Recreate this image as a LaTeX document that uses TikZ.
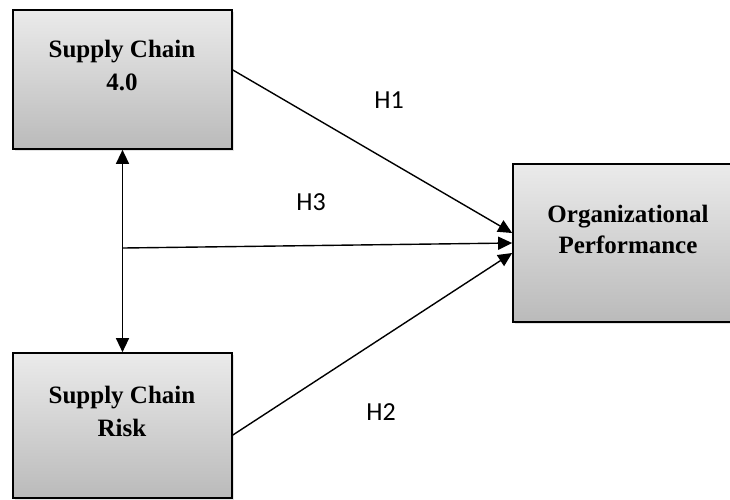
\documentclass[tikz,border=0pt]{standalone}
\usepackage{fontspec}
\setmainfont{Liberation Serif}
\newfontfamily\hfont{Carlito}
\usetikzlibrary{arrows.meta,calc,shadows}
\begin{document}
\begin{tikzpicture}[x=1pt,y=-1pt,
  box/.style={draw=black,line width=1.7pt,inner sep=0pt,
    top color=black!8,bottom color=black!27,
    drop shadow={opacity=0.22,shadow xshift=1.5pt,shadow yshift=-2pt}},
  lbl/.style={font=\fontsize{25}{33}\selectfont\bfseries,align=center,inner sep=0pt},
  hyp/.style={font=\hfont\fontsize{26}{30}\selectfont,inner sep=0pt},
  conn/.style={line width=1.4pt,-{Triangle[length=14pt,width=13pt]}},
  dconn/.style={line width=1.4pt,{Triangle[length=14pt,width=13pt]}-{Triangle[length=14pt,width=13pt]}}]
\useasboundingbox (0,0) rectangle (730,499);
\fill[white] (0,0) rectangle (730,499);

% boxes
\node[box,minimum width=219pt,minimum height=139pt] (sc4) at (122.5,79.5) {};
\node[box,minimum width=219pt,minimum height=145pt] (scr) at (122.5,425.5) {};
\node[box,minimum width=232pt,minimum height=158pt] (op) at (629,243) {};

% texts
\node[lbl] (t1) at (122,65.5) {Supply Chain\\4.0};
\node[lbl] (t2) at (122,411.5) {Supply Chain\\Risk};
\node[lbl,font=\fontsize{25}{31.5}\selectfont\bfseries] (t3) at (628,229.5) {Organizational\\Performance};

% hypothesis labels
\node[hyp] (h1) at (389,100) {H1};
\node[hyp] (h3) at (311,202) {H3};
\node[hyp] (h2) at (381,412) {H2};

% connectors
\coordinate (j) at (123,248);
\draw[dconn] (sc4.south) -- (scr.north);
\draw[conn] ($(sc4.east)+(0,-9.5)$) -- ($(op.west)+(0,-10)$);
\draw[conn] (j) -- (op.west);
\draw[conn] ($(scr.east)+(0,9.5)$) -- ($(op.west)+(0,10)$);
\end{tikzpicture}
\end{document}
